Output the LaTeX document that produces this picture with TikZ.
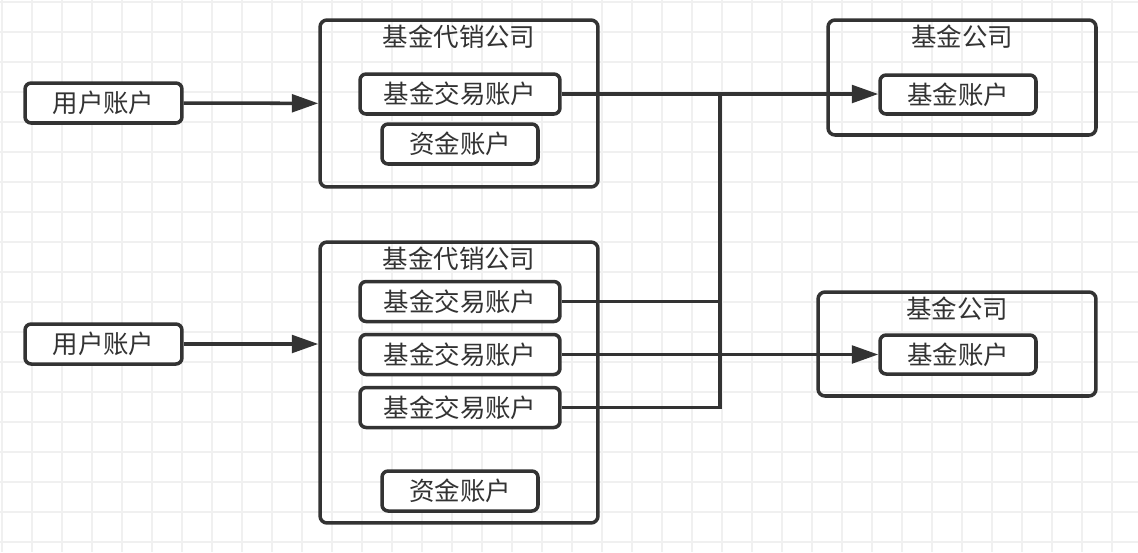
\documentclass[tikz,border=0pt]{standalone}
\usepackage{fontspec}
\setmainfont{Noto Sans CJK SC}
\usetikzlibrary{arrows.meta}

\definecolor{ink}{HTML}{333333}
\definecolor{gridminor}{HTML}{F0F0F0}

\begin{document}
\begin{tikzpicture}[x=0.02cm, y=-0.02cm,
    box/.style={draw=ink, line width=2pt, rounded corners=3.5pt, fill=white,
      text=ink, inner sep=0pt, font=\fontsize{14.5}{17}\selectfont},
    group/.style={draw=ink, line width=2pt, rounded corners=4pt, inner sep=0pt},
    title/.style={text=ink, inner sep=0pt, font=\fontsize{14.5}{17}\selectfont},
    link/.style={draw=ink, line width=2pt},
    arrow/.style={link, -{Triangle[length=15pt,width=10pt]}}]
        \useasboundingbox (0,0) rectangle (1138,552);
        % Draw the grid
        \fill[white] (0,0) rectangle (1138,552);
        \foreach \x in {2,32,...,1138}
            \draw[gridminor, line width=0.9pt] (\x,0) -- (\x,552);
        \foreach \y in {2,32,...,552}
            \draw[gridminor, line width=0.9pt] (0,\y) -- (1138,\y);

        % Draw the agencies
        \node[group, minimum width=5.56cm, minimum height=3.34cm] (agencyA) at (459,103.5) {};
        \node[title] at (459,37) {基金代销公司};
        \node[group, minimum width=5.56cm, minimum height=5.62cm] (agencyB) at (459,382.5) {};
        \node[title] at (459,259) {基金代销公司};

        % Draw the fund companies
        \node[group, minimum width=5.36cm, minimum height=2.3cm] (fundA) at (962,77.5) {};
        \node[title] at (962,37) {基金公司};
        \node[group, minimum width=5.56cm, minimum height=2.08cm] (fundB) at (957,344) {};
        \node[title] at (957,309) {基金公司};

        % Draw the accounts
        \node[box, minimum width=3.14cm, minimum height=0.8cm] (userA) at (103.5,103) {用户账户};
        \node[box, minimum width=3.14cm, minimum height=0.8cm] (userB) at (103.5,344) {用户账户};
        \node[box, minimum width=4cm, minimum height=0.8cm] (tradeA) at (460,94) {基金交易账户};
        \node[box, minimum width=3.12cm, minimum height=0.8cm] (capA) at (460,144) {资金账户};
        \node[box, minimum width=4cm, minimum height=0.8cm] (tradeB1) at (460,301.5) {基金交易账户};
        \node[box, minimum width=4cm, minimum height=0.8cm] (tradeB2) at (460,354.5) {基金交易账户};
        \node[box, minimum width=4cm, minimum height=0.8cm] (tradeB3) at (460,407.5) {基金交易账户};
        \node[box, minimum width=3.12cm, minimum height=0.8cm] (capB) at (460,491) {资金账户};
        \node[box, minimum width=3.12cm, minimum height=0.78cm] (accA) at (958,94.5) {基金账户};
        \node[box, minimum width=3.12cm, minimum height=0.78cm] (accB) at (958,354.5) {基金账户};

        % Draw the links
        \coordinate (bus) at (720,94);
        \draw[arrow] (userA) -- (agencyA);
        \draw[arrow] (userB.east) -- (userB.east -| agencyB.west);
        \draw[arrow] (tradeA) -- (tradeA -| accA.west);
        \draw[arrow] (tradeB2) -- (tradeB2 -| accB.west);
        \draw[link] (tradeB1) -- (tradeB1 -| bus);
        \draw[link] (tradeB3.east) -| (bus);
    \end{tikzpicture}
\end{document}
